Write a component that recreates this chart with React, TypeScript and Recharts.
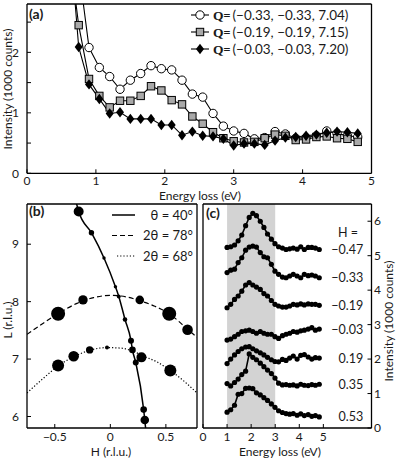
import React from 'react';
import { LineChart, ComposedChart, Line, Scatter, XAxis, YAxis, ZAxis, ReferenceArea } from 'recharts';

const FONT = 'Lato, "Liberation Sans", Arial, sans-serif';
const INK = '#1a1a1a';

// ---------- panel (a): intensity vs energy loss at three Q
const lossA = [0.6, 0.75, 0.9, 1.05, 1.2, 1.35, 1.5, 1.65, 1.8, 1.95, 2.1, 2.25, 2.4, 2.55, 2.7, 2.85, 3.0, 3.15, 3.3, 3.45, 3.6, 3.75, 3.9, 4.05, 4.2, 4.35, 4.5, 4.65, 4.8];
const qCircle = [6.0, 3.4, 2.08, 1.75, 1.6, 1.39, 1.54, 1.65, 1.78, 1.73, 1.71, 1.54, 1.31, 1.26, 0.99, 0.78, 0.7, 0.66, 0.57, 0.59, 0.69, 0.65, 0.58, 0.59, 0.62, 0.7, 0.66, 0.62, 0.6];
const qSquare = [3.8, 2.45, 1.56, 1.28, 1.09, 1.2, 1.2, 1.28, 1.44, 1.37, 1.21, 1.14, 0.94, 0.82, 0.68, 0.58, 0.53, 0.51, 0.52, 0.58, 0.64, 0.62, 0.55, 0.56, 0.6, 0.61, 0.58, 0.57, 0.52];
const qDiamond = [4.2, 2.09, 1.47, 1.23, 0.99, 1.01, 0.9, 0.9, 0.9, 0.8, 0.8, 0.63, 0.69, 0.62, 0.61, 0.57, 0.46, 0.49, 0.49, 0.47, 0.54, 0.59, 0.6, 0.62, 0.64, 0.67, 0.69, 0.68, 0.66];
const legendA = ['(−0.33, −0.33, 7.04)', '(−0.19, −0.19, 7.15)', '(−0.03, −0.03, 7.20)'];
const ticksAx = [0, 1, 2, 3, 4, 5];
const ticksAy = [0, 0.5, 1, 1.5, 2, 2.5];

// ---------- panel (b): scan trajectories in the H-L plane
const solidH = [-0.31, -0.285, -0.17, -0.057, 0.046, 0.076, 0.132, 0.186, 0.199, 0.229, 0.3, 0.31, 0.32];
const solidL = [9.75, 9.57, 9.2, 8.76, 8.26, 8.09, 7.69, 7.32, 7.16, 6.94, 6.12, 5.94, 5.75];
const dashH = [-0.75, -0.6, -0.47, -0.3, -0.15, 0, 0.15, 0.26, 0.4, 0.53, 0.695, 0.78];
const dashL = [7.43, 7.63, 7.79, 7.97, 8.07, 8.11, 8.08, 8.02, 7.92, 7.79, 7.52, 7.38];
const dotH = [-0.75, -0.6, -0.47, -0.33, -0.19, -0.03, 0.1, 0.2, 0.3, 0.42, 0.54, 0.66, 0.78];
const dotL = [6.41, 6.67, 6.88, 7.04, 7.15, 7.2, 7.19, 7.14, 7.05, 6.95, 6.8, 6.62, 6.41];
const markH = [-0.285, -0.17, -0.057, 0.046, 0.076, 0.132, 0.186, 0.199, 0.229, 0.3, 0.31, -0.47, -0.246, 0.265, 0.53, 0.695, -0.47, -0.33, -0.186, -0.03, 0.28, 0.54];
const markL = [9.57, 9.2, 8.76, 8.26, 8.09, 7.69, 7.32, 7.16, 6.94, 6.12, 5.94, 7.79, 8.03, 8.03, 7.79, 7.51, 6.89, 7.05, 7.16, 7.2, 7.03, 6.8];
const markW = [25, 7.3, 2.9, 2.9, 4, 5.3, 9, 11, 9, 11, 18.5, 49, 22, 18.5, 49, 28, 36, 28, 13.7, 4, 25, 36];
const legendB = ['θ = 40°', '2θ = 78°', '2θ = 68°'];

// ---------- panel (c): spectra along the 2θ = 68° arc (offset)
const lossC = [1.0, 1.15, 1.31, 1.46, 1.61, 1.77, 1.92, 2.07, 2.22, 2.38, 2.53, 2.68, 2.84, 2.99, 3.14, 3.3, 3.45, 3.6, 3.75, 3.91, 4.06, 4.21, 4.37, 4.52, 4.67, 4.83];
const specM047 = [5.24, 5.26, 5.31, 5.43, 5.6, 5.87, 6.11, 6.23, 6.16, 6.0, 5.82, 5.63, 5.48, 5.35, 5.26, 5.22, 5.18, 5.2, 5.22, 5.19, 5.26, 5.18, 5.24, 5.24, 5.22, 5.18];
const specM033 = [4.51, 4.58, 4.61, 4.8, 4.94, 5.16, 5.25, 5.28, 5.25, 5.09, 4.97, 4.94, 4.75, 4.55, 4.46, 4.38, 4.36, 4.41, 4.46, 4.41, 4.36, 4.46, 4.42, 4.44, 4.41, 4.36];
const specM019 = [3.49, 3.59, 3.73, 3.83, 3.97, 4.15, 4.22, 4.15, 4.09, 4.02, 3.9, 3.83, 3.7, 3.59, 3.54, 3.51, 3.51, 3.54, 3.59, 3.57, 3.6, 3.57, 3.6, 3.59, 3.59, 3.56];
const specM003 = [2.55, 2.58, 2.65, 2.72, 2.8, 2.82, 2.84, 2.8, 2.75, 2.8, 2.75, 2.72, 2.72, 2.65, 2.6, 2.68, 2.72, 2.75, 2.8, 2.78, 2.82, 2.84, 2.87, 2.91, 2.84, 2.87];
const specP019 = [1.87, 2.0, 2.12, 2.22, 2.3, 2.35, 2.36, 2.3, 2.24, 2.18, 2.12, 2.05, 1.98, 1.93, 1.92, 1.99, 1.96, 2.03, 2.09, 2.0, 2.11, 2.13, 2.06, 2.0, 2.04, 2.03];
const specP035 = [1.29, 1.22, 1.32, 1.42, 1.55, 1.65, 2.15, 2.05, 1.98, 1.88, 1.78, 1.68, 1.58, 1.45, 1.3, 1.25, 1.26, 1.24, 1.25, 1.22, 1.27, 1.24, 1.23, 1.26, 1.24, 1.27];
const specP053 = [0.46, 0.53, 0.66, 0.98, 1.0, 1.15, 1.16, 1.14, 1.02, 0.96, 0.88, 0.8, 0.7, 0.6, 0.5, 0.45, 0.42, 0.4, 0.42, 0.37, 0.41, 0.36, 0.39, 0.34, 0.36, 0.32];
const specLabels = ['−0.47', '−0.33', '−0.19', '−0.03', '0.19', '0.35', '0.53'];
const ticksCx = [0, 1, 2, 3, 4, 5];
const ticksCy = [0, 1, 2, 3, 4, 5, 6];

const rowsA = lossA.map((e, i) => ({ e, c: qCircle[i], s: qSquare[i], d: qDiamond[i] }));
const rowsSolid = solidH.map((h, i) => ({ h, l: solidL[i] }));
const rowsDash = dashH.map((h, i) => ({ h, l: dashL[i] }));
const rowsDot = dotH.map((h, i) => ({ h, l: dotL[i] }));
const rowsMark = markH.map((h, i) => ({ h, l: markL[i], w: markW[i] }));
const specs = [specM047, specM033, specM019, specM003, specP019, specP035, specP053];
const rowsC = lossC.map((e, i) => {
  const row: any = { e };
  specs.forEach((s, k) => { row['s' + k] = s[i]; });
  return row;
});

const fmt = (v: number) => (v < 0 ? '−' + Math.abs(v) : String(v));
const axisLine = { stroke: '#000', strokeWidth: 1.3 };
const tickLine = { stroke: '#000', strokeWidth: 1 };
const tickStyle = { fontSize: 12, fill: INK, fontFamily: FONT };

const squareDot = (p: any) => (
  <rect key={'sq' + p.index} x={p.cx - 3.7} y={p.cy - 3.7} width={7.4} height={7.4} fill="#a9a9a9" stroke="#000" strokeWidth={1} />
);
const diamondDot = (p: any) => (
  <polygon key={'dm' + p.index} points={`${p.cx},${p.cy - 5.2} ${p.cx + 4},${p.cy} ${p.cx},${p.cy + 5.2} ${p.cx - 4},${p.cy}`} fill="#000" />
);

// axes are 1px thick so that recharts draws them; margins take up the rest
const PanelA = () => (
  <LineChart width={399} height={461} data={rowsA} margin={{ top: 3, right: 26.5, bottom: 286.7, left: 26 }}>
    <XAxis dataKey="e" type="number" domain={[0, 5]} ticks={ticksAx} interval={0} allowDataOverflow height={1}
      tickSize={-4} tickMargin={7.5} axisLine={axisLine} tickLine={tickLine} tick={tickStyle} />
    <XAxis xAxisId="top" orientation="top" dataKey="e" type="number" domain={[0, 5]} ticks={ticksAx} interval={0}
      allowDataOverflow height={1} tickSize={-4} axisLine={axisLine} tickLine={tickLine} tick={false} />
    <YAxis type="number" domain={[0, 2.8]} ticks={ticksAy} interval={0} allowDataOverflow width={1}
      tickSize={-4} tickMargin={12} axisLine={axisLine} tickLine={tickLine} tick={tickStyle}
      tickFormatter={(v: number) => (Number.isInteger(v) ? String(v) : '')} />
    <YAxis yAxisId="right" orientation="right" type="number" domain={[0, 2.8]} ticks={ticksAy} interval={0}
      allowDataOverflow width={1} tickSize={-4} axisLine={axisLine} tickLine={tickLine} tick={false} />
    <Line dataKey="c" stroke="#000" strokeWidth={1.1} isAnimationActive={false}
      dot={{ r: 4.2, fill: '#fff', stroke: '#000', strokeWidth: 1 }} />
    <Line dataKey="s" stroke="#000" strokeWidth={1.1} isAnimationActive={false} dot={squareDot} />
    <Line dataKey="d" stroke="#000" strokeWidth={1.1} isAnimationActive={false} dot={diamondDot} />
  </LineChart>
);

const PanelB = () => (
  <ComposedChart width={399} height={461} margin={{ top: 203, right: 201, bottom: 32, left: 26 }}>
    <XAxis dataKey="h" type="number" domain={[-0.75, 0.78]} ticks={[-0.5, 0, 0.5]} interval={0} allowDataOverflow height={1}
      tickSize={-4} tickMargin={8.5} axisLine={axisLine} tickLine={tickLine} tick={tickStyle} tickFormatter={fmt} />
    <XAxis xAxisId="top" orientation="top" dataKey="h" type="number" domain={[-0.75, 0.78]} ticks={[-0.5, 0, 0.5]}
      interval={0} allowDataOverflow height={1} tickSize={-4} axisLine={axisLine} tickLine={tickLine} tick={false} />
    <YAxis dataKey="l" type="number" domain={[5.8, 9.7]} ticks={[6, 7, 8, 9]} interval={0} allowDataOverflow width={1}
      tickSize={-4} tickMargin={12} axisLine={axisLine} tickLine={tickLine} tick={tickStyle} />
    <YAxis yAxisId="right" orientation="right" type="number" domain={[5.8, 9.7]} ticks={[6, 7, 8, 9]} interval={0}
      allowDataOverflow width={1} tickSize={-4} axisLine={axisLine} tickLine={tickLine} tick={false} />
    <ZAxis dataKey="w" type="number" domain={[0, 50]} range={[0, 157]} />
    <Line data={rowsSolid} dataKey="l" type="monotone" stroke="#000" strokeWidth={1.5} dot={false} isAnimationActive={false} />
    <Line data={rowsDash} dataKey="l" type="monotone" stroke="#000" strokeWidth={1.2} strokeDasharray="5 3" dot={false} isAnimationActive={false} />
    <Line data={rowsDot} dataKey="l" type="monotone" stroke="#000" strokeWidth={1.2} strokeDasharray="1.2 2" dot={false} isAnimationActive={false} />
    <Scatter data={rowsMark} dataKey="l" fill="#000" isAnimationActive={false} />
  </ComposedChart>
);

const specLabel = (name: string) => (p: any) => (
  <g key={'lb' + name + p.index}>
    {p.index === lossC.length - 1 ? (
      <text x={p.x + 44} y={p.y + 4.5} textAnchor="end" fontSize={12.5} fontFamily={FONT} fill={INK}>{name}</text>
    ) : null}
  </g>
);

const PanelC = () => (
  <LineChart width={399} height={461} data={rowsC} margin={{ top: 203, right: 26.5, bottom: 32, left: 202 }}>
    <ReferenceArea x1={1} x2={3} y1={0} y2={6.5} fill="#d3d3d3" fillOpacity={1} stroke="none" />
    <XAxis dataKey="e" type="number" domain={[0, 7]} ticks={ticksCx} interval={0} allowDataOverflow height={1}
      tickSize={-4} tickMargin={8.5} axisLine={axisLine} tickLine={tickLine} tick={tickStyle} />
    <XAxis xAxisId="top" orientation="top" dataKey="e" type="number" domain={[0, 7]} ticks={ticksCx} interval={0}
      allowDataOverflow height={1} tickSize={-4} axisLine={axisLine} tickLine={tickLine} tick={false} />
    <YAxis orientation="right" type="number" domain={[0, 6.5]} ticks={ticksCy} interval={0} allowDataOverflow width={1}
      tickSize={-4} tickMargin={6.5} axisLine={axisLine} tickLine={tickLine} tick={tickStyle} />
    <YAxis yAxisId="left" orientation="left" type="number" domain={[0, 6.5]} ticks={ticksCy} interval={0}
      allowDataOverflow width={1} tickSize={-4} axisLine={axisLine} tickLine={tickLine} tick={false} />
    {specLabels.map((name, k) => (
      <Line key={name} dataKey={'s' + k} stroke="#000" strokeWidth={1.6} isAnimationActive={false}
        dot={{ r: 2.6, fill: '#000', stroke: 'none' }} label={specLabel(name)} />
    ))}
  </LineChart>
);

const Annotations = () => (
  <svg width={399} height={461} style={{ position: 'absolute', left: 0, top: 0, pointerEvents: 'none' }}>
    <g fontFamily={FONT} fill={INK}>
      <text x={29} y={18.5} fontSize={14} fontWeight="bold">(a)</text>
      <text x={29} y={216} fontSize={14} fontWeight="bold">(b)</text>
      <text x={206} y={218} fontSize={14} fontWeight="bold">(c)</text>

      <text x={200} y={199.5} fontSize={12} textAnchor="middle">Energy loss (eV)</text>
      <text transform="translate(12.3,89) rotate(-90)" fontSize={12} textAnchor="middle">Intensity (1000 counts)</text>
      <text transform="translate(12.3,320) rotate(-90)" fontSize={12} textAnchor="middle">L (r.l.u.)</text>
      <text x={111} y={456} fontSize={12} textAnchor="middle">H (r.l.u.)</text>
      <text x={280} y={456} fontSize={12} textAnchor="middle">Energy loss (eV)</text>
      <text transform="translate(393,321) rotate(-90)" fontSize={12} textAnchor="middle">Intensity (1000 counts)</text>
      <text x={338} y={236.5} fontSize={12.5}>H =</text>

      {legendA.map((q, i) => {
        const cy = 15 + i * 17;
        return (
          <g key={q}>
            <line x1={191} x2={209} y1={cy} y2={cy} stroke="#000" strokeWidth={1.1} />
            {i === 0 && <circle cx={200} cy={cy} r={4.2} fill="#fff" stroke="#000" strokeWidth={1} />}
            {i === 1 && <rect x={196.3} y={cy - 3.7} width={7.4} height={7.4} fill="#a9a9a9" stroke="#000" strokeWidth={1} />}
            {i === 2 && <polygon points={`200,${cy - 5.2} 204,${cy} 200,${cy + 5.2} 196,${cy}`} fill="#000" />}
            <text x={213} y={cy + 4.5} fontSize={13.5} fontFamily='"Liberation Serif", serif' fontWeight="bold">Q</text>
            <text x={223} y={cy + 4.5} fontSize={13.5}>=</text>
            <text x={232.5} y={cy + 4.5} fontSize={13.5}>{q}</text>
          </g>
        );
      })}

      {legendB.map((t, i) => {
        const cy = 215 + i * 20.5;
        return (
          <g key={t}>
            <line x1={i === 2 ? 117 : 112} x2={135} y1={cy} y2={cy} stroke="#000" strokeWidth={i === 0 ? 1.5 : 1.2}
              strokeDasharray={i === 1 ? '5 3' : i === 2 ? '1.2 2' : undefined} />
            <text x={193} y={cy + 4.5} fontSize={13} textAnchor="end">{t}</text>
          </g>
        );
      })}
    </g>
  </svg>
);

export default function App() {
  return (
    <div style={{ position: 'absolute', left: 0, top: 0, width: 399, height: 461, background: '#fff', fontFamily: FONT }}>
      <div style={{ position: 'absolute', left: 0, top: 0 }}><PanelC /></div>
      <div style={{ position: 'absolute', left: 0, top: 0 }}><PanelB /></div>
      <div style={{ position: 'absolute', left: 0, top: 0 }}><PanelA /></div>
      <Annotations />
    </div>
  );
}
